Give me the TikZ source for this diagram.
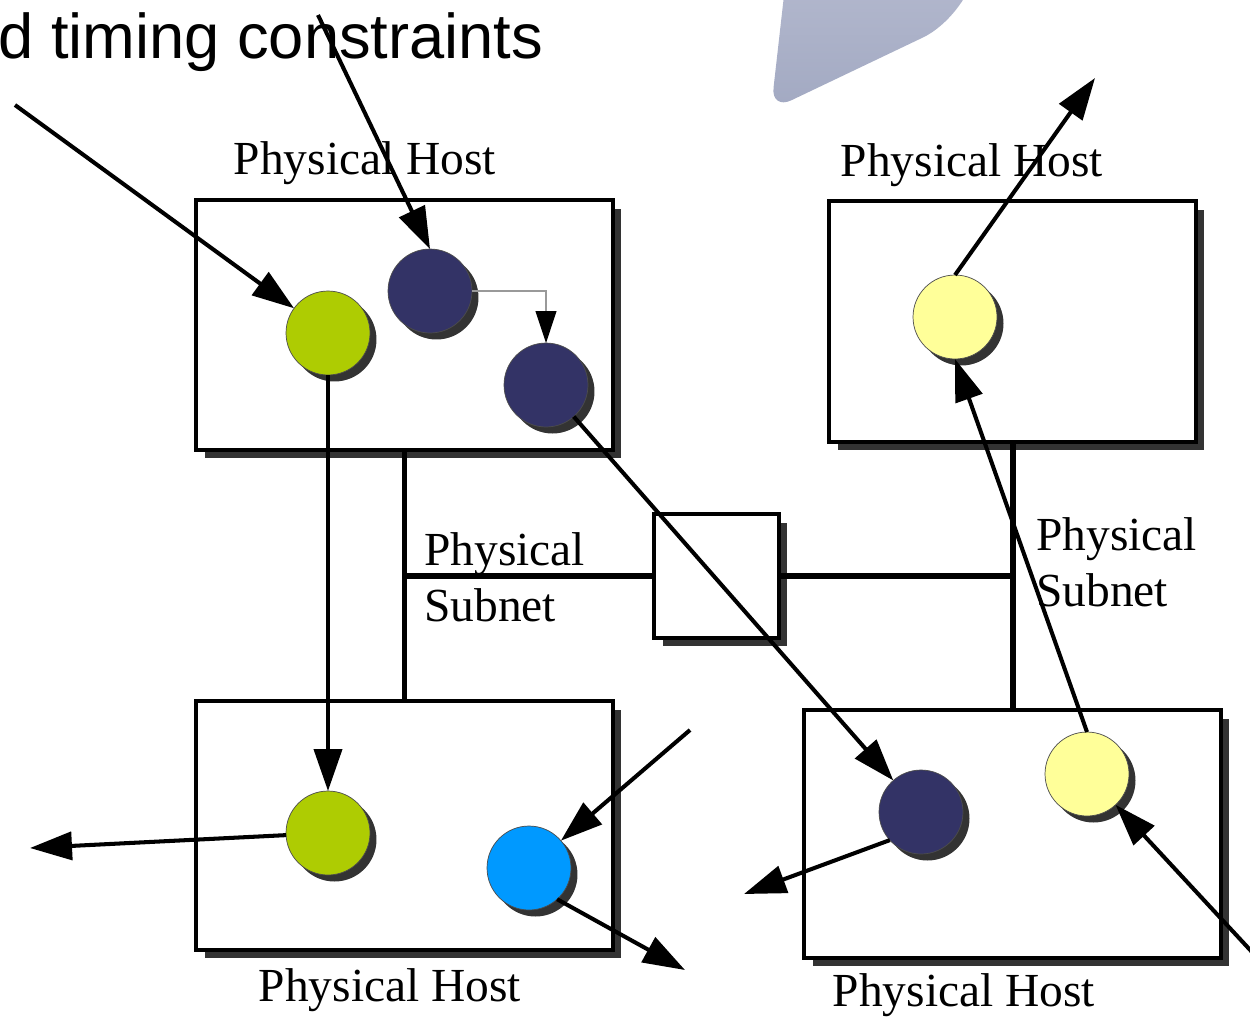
\documentclass[tikz,border=0pt]{standalone}
\usepackage{fontspec}
\setmainfont{Liberation Serif}
\newfontfamily\headfont{Liberation Sans}
\usetikzlibrary{arrows.meta,shadows}
\definecolor{leaf}{HTML}{AECC02}
\definecolor{ink}{HTML}{333366}
\definecolor{cream}{HTML}{FFFF99}
\definecolor{sky}{HTML}{0099FF}
\definecolor{slateA}{HTML}{B5BACF}
\definecolor{slateB}{HTML}{A2A9C2}
\definecolor{shade}{HTML}{333333}
\begin{document}
\begin{tikzpicture}[x=0.02cm,y=-0.02cm,
  hostbox/.style={draw=black, line width=2.5pt, fill=white, inner sep=0pt, outer sep=0pt,
    drop shadow={shadow xshift=0.17cm, shadow yshift=-0.17cm, fill=shade, opacity=1}},
  proc/.style={circle, fill=#1, draw=black!70, line width=0.4pt, minimum size=1.68cm,
    inner sep=0pt, outer sep=0pt,
    drop shadow={shadow xshift=0.13cm, shadow yshift=-0.13cm, fill=shade, opacity=1}},
  net/.style={line width=3.4pt},
  flow/.style={line width=2.3pt, -{Triangle[length=0.84cm, width=0.56cm]}},
  hop/.style={draw=black!40, line width=0.6pt, -{Triangle[length=0.64cm, width=0.42cm, color=black]}},
  label/.style={font=\fontsize{27}{32}\selectfont, inner sep=0pt, anchor=base},
  sublabel/.style={font=\fontsize{27}{32}\selectfont, inner sep=0pt, anchor=base west}]
\useasboundingbox (0,0) rectangle (1250,1018);

% decorative slate shape at the top
\shade[top color=slateA, bottom color=slateB]
  (788,-40) [rounded corners=0.45cm] -- (771,110) [rounded corners=1cm] -- (968,16)
  [sharp corners] -- (978,-40) -- cycle;

% heading fragment
\node[font=\headfont\fontsize{36}{40}\selectfont, inner sep=0pt, anchor=base west]
  (title) at (-2,58) {d timing constraints};

% hosts and switch
\node[hostbox, minimum width=8.34cm, minimum height=5cm]    (h1) at (404.5,325) {};
\node[hostbox, minimum width=7.34cm, minimum height=4.82cm] (h3) at (1012.5,321.5) {};
\node[hostbox, minimum width=8.34cm, minimum height=4.98cm] (h2) at (404.5,825.5) {};
\node[hostbox, minimum width=8.34cm, minimum height=4.96cm] (h4) at (1012.5,834) {};

% subnets
\draw[net] (h1.south) -- (h2.north);
\draw[net] (h3.south) -- (h4.north);
\node[hostbox, minimum width=2.5cm, minimum height=2.48cm] (sw) at (716.5,576) {};
\draw[net] (h1.south |- sw.west) -- (sw.west);
\draw[net] (sw.east) -- (h3.south |- sw.east);

% labels
\node[label] (l1) at (365,174)  {Physical Host};
\node[label] (l3) at (972,176)  {Physical Host};
\node[label] (l2) at (390,1001) {Physical Host};
\node[label] (l4) at (964,1006) {Physical Host};
\node[sublabel] (s1a) at (424,565)  {Physical};
\node[sublabel] (s1b) at (424,621)  {Subnet};
\node[sublabel] (s2a) at (1036,550) {Physical};
\node[sublabel] (s2b) at (1036,606) {Subnet};

% processes
\node[proc=leaf]  (g1) at (328,333)  {};
\node[proc=ink]   (n1) at (430,291)  {};
\node[proc=ink]   (n2) at (546,385)  {};
\node[proc=cream] (y1) at (955,317)  {};
\node[proc=leaf]  (g2) at (328,833)  {};
\node[proc=sky]   (b1) at (529,868)  {};
\node[proc=ink]   (n3) at (921,812)  {};
\node[proc=cream] (y2) at (1087,774) {};

% free ends of the flows
\coordinate (inA)  at (15,105);
\coordinate (inB)  at (318,15);
\coordinate (outC) at (1095,78);
\coordinate (outD) at (30,848);
\coordinate (inE)  at (690,730);
\coordinate (outF) at (685,970);
\coordinate (outG) at (744,894);
\coordinate (inH)  at (1252,952);

% flows
\draw[flow] (inA) -- (g1);
\draw[flow] (inB) -- (n1.north);
\draw[hop]  (n1.east) -| (n2.north);
\draw[flow] (g1.south) -- (g2.north);
\draw[flow] (n2) -- (n3);
\draw[flow] (y1.north) -- (outC);
\draw[flow] (y2.north) -- (y1.south);
\draw[flow] (g2) -- (outD);
\draw[flow] (inE) -- (b1);
\draw[flow] (b1.312) -- (outF);
\draw[flow] (n3.222) -- (outG);
\draw[flow] (inH) -- (y2);
\end{tikzpicture}
\end{document}
